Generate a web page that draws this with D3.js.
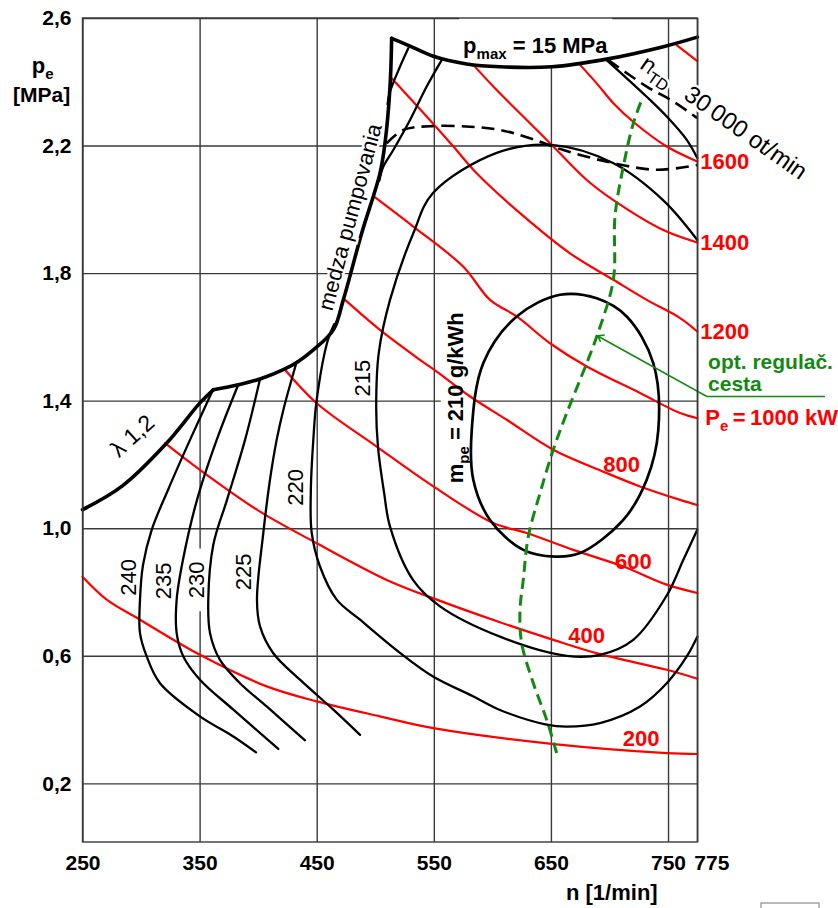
<!DOCTYPE html>
<html>
<head>
<meta charset="utf-8">
<script src="https://cdn.jsdelivr.net/npm/d3@7"></script>
<style>
  body { margin: 0; background: #fff; }
  svg { display: block; }
  text { font-family: "Liberation Sans", Arial, sans-serif; }
</style>
</head>
<body>
<div id="chart"></div>
<script>
// axis values
const xTicks = [250, 350, 450, 550, 650, 750, 775];
const yTicks = [0.2, 0.6, 1.0, 1.4, 1.8, 2.2, 2.6];

// operating limits [n, pe]
const lambdaLine = [[250, 1.058], [283.5, 1.131], [321.9, 1.267], [350.3, 1.393], [361.7, 1.434]];
const surgeLine = [[361.7, 1.434], [383, 1.450], [401.6, 1.468], [421.5, 1.497], [434.3, 1.523], [447.1, 1.559],
  [464.2, 1.622], [472.7, 1.716], [488.4, 1.925], [504, 2.113], [508.3, 2.207], [512.6, 2.385], [514, 2.536]];
const pmaxLine = [[514, 2.536], [529.7, 2.512], [549.6, 2.480], [578, 2.456], [606.5, 2.447], [650.7, 2.447],
  [697.6, 2.471], [746, 2.51], [775, 2.540]];

// short branches between p_max and the surge limit
const topBranchA = [[528.2, 2.505], [521.1, 2.447], [512.6, 2.369], [510.5, 2.33]];
const topBranchB = [[556.7, 2.468], [543.9, 2.385], [529.7, 2.280], [515.4, 2.186], [506.9, 2.134], [503.5, 2.09]];

// specific consumption contours m_pe [g/kWh]
const bsfc210 = [[657.8, 1.732], [689.1, 1.721], [714.7, 1.664], [737.4, 1.518], [741.7, 1.308], [731.8, 1.152],
  [711.8, 1.026], [674.9, 0.922], [653.5, 0.911], [626.4, 0.932], [598, 1.026], [583.7, 1.152], [582.4, 1.308],
  [592.3, 1.518], [620.8, 1.664]];
const bsfc215 = [[775, 1.904], [745.7, 2.029], [703, 2.145], [650.7, 2.202], [603.7, 2.177], [549.3, 2.051],
  [532.5, 1.925], [512.6, 1.716], [503, 1.55], [500.8, 1.38], [502.3, 1.256], [507.6, 1.110], [512.6, 1.005],
  [532.2, 0.838], [555.3, 0.755], [606.5, 0.660], [663.5, 0.600], [691.9, 0.603], [720.3, 0.650], [748.9, 0.789],
  [763.1, 0.901], [775, 0.995]];
const bsfc220 = [[465, 1.640], [459.6, 1.591], [450, 1.403], [447.1, 1.277], [445, 1.120], [445.7, 0.986],
  [452.8, 0.880], [467.1, 0.776], [487, 0.713], [521.1, 0.609], [549.3, 0.535], [583.5, 0.473], [606.5, 0.430],
  [646.4, 0.384], [663.5, 0.378], [691.9, 0.389], [726.1, 0.441], [748.9, 0.514], [766, 0.598], [775, 0.660]];
const bsfc225 = [[432.9, 1.522], [421.5, 1.371], [415.8, 1.277], [410.1, 1.152], [404.4, 0.985], [399, 0.776],
  [401.6, 0.692], [412.9, 0.608], [435.7, 0.525], [464.2, 0.431], [487, 0.352]];
const bsfc230 = [[401.6, 1.468], [388.8, 1.277], [373.4, 1.089], [361.7, 0.948], [357.4, 0.776], [358.9, 0.671],
  [367.4, 0.587], [384.5, 0.514], [407.3, 0.441], [440, 0.335]];
const bsfc235 = [[383, 1.450], [364.6, 1.277], [347.8, 1.089], [335.8, 0.901], [330.4, 0.776], [330.4, 0.671],
  [336.1, 0.598], [350.3, 0.525], [378.8, 0.431], [417.2, 0.308]];
const bsfc240 = [[361.4, 1.434], [341.8, 1.277], [323, 1.120], [309.1, 0.995], [301.7, 0.885], [299.1, 0.776],
  [299.1, 0.671], [304.8, 0.598], [316.2, 0.514], [350.3, 0.410], [378.8, 0.347], [398.2, 0.297]];

// turbocharger speed limit and upper dashed limit
const ntdSolid = [[697.6, 2.468], [731.8, 2.353], [748.9, 2.291], [766, 2.218], [775, 2.161]];
const ntdDashed = [[699, 2.468], [731.8, 2.385], [754.5, 2.338], [775, 2.286]];
const limitDashed = [[509.8, 2.207], [524, 2.249], [548.2, 2.261], [580.9, 2.259], [606.5, 2.249], [632.1, 2.223],
  [660.6, 2.186], [703.3, 2.145], [740.3, 2.124], [775, 2.139]];

// constant power lines Pe [kW]
const power200 = [[250, 0.848], [270.7, 0.776], [299.1, 0.713], [350.3, 0.603], [407.3, 0.504], [450, 0.457],
  [504, 0.410], [549.6, 0.373], [650.7, 0.324], [748.9, 0.295], [775, 0.292]];
const power400 = [[320.5, 1.267], [350.3, 1.183], [401.6, 1.052], [450, 0.953], [509.8, 0.838], [552.5, 0.776],
  [606.5, 0.705], [652, 0.650], [692, 0.605], [748.9, 0.556], [775, 0.528]];
const power600 = [[422.9, 1.497], [450, 1.392], [501.2, 1.256], [549.6, 1.131], [600.8, 1.016], [629.3, 0.985],
  [669.1, 0.932], [711.8, 0.880], [748.9, 0.823], [775, 0.797]];
const power800 = [[474.2, 1.716], [504, 1.622], [538.2, 1.528], [552.5, 1.491], [581, 1.413], [612.3, 1.340],
  [652, 1.246], [697.6, 1.173], [726.1, 1.131], [760.3, 1.089], [775, 1.073]];
const power1000 = [[499, 2.040], [532.5, 1.946], [575.2, 1.820], [598, 1.716], [620.8, 1.664], [649.2, 1.580],
  [680.6, 1.507], [726.1, 1.424], [760.3, 1.361], [775, 1.345]];
const power1200 = [[514, 2.411], [543.9, 2.291], [566.7, 2.197], [586.6, 2.113], [623.6, 1.988], [666.3, 1.862],
  [703.3, 1.779], [731.8, 1.716], [760.3, 1.659], [775, 1.617]];
const power1400 = [[583.7, 2.453], [603.7, 2.374], [632.1, 2.270], [652, 2.197], [680.6, 2.092], [703.3, 2.029],
  [746, 1.935], [775, 1.896]];
const power1600 = [[674.9, 2.453], [689.1, 2.395], [703.3, 2.333], [721.8, 2.270], [748.9, 2.197], [775, 2.150]];
const power1800 = [[757.4, 2.515], [775, 2.465]];

// optimal control path
const optPath = [[654.9, 0.295], [646.4, 0.399], [635, 0.514], [625, 0.640], [623.6, 0.744], [626.4, 0.838],
  [630.7, 0.974], [640.7, 1.110], [652, 1.246], [663.5, 1.361], [680.6, 1.518], [689.1, 1.601], [703.3, 1.779],
  [704.7, 1.977], [711.8, 2.134], [720.4, 2.270], [727.5, 2.343]];

const W = 838, H = 908;
const yMin = 0.016;

const svg = d3.select("#chart").append("svg")
    .attr("width", W)
    .attr("height", H);

const x = d3.scaleLinear().domain([250, 775]).range([82.5, 697.3]);
const y = d3.scaleLinear().domain([yMin, 2.6]).range([842, 18]);
const plotW = x(775) - x(250), plotH = y(yMin) - y(2.6);

const gGrid = svg.append("g");
const gBg = svg.append("g");
const gCurves = svg.append("g");
const gFrame = svg.append("g");
const gText = svg.append("g");

// grid and tick labels
const comma = d => d3.format(".1f")(d).replace(".", ",");
gGrid.append("g")
    .attr("transform", "translate(0," + y(yMin) + ")")
    .call(d3.axisBottom(x).tickValues(xTicks).tickSize(-plotH).tickPadding(13).tickFormat(d3.format("d")));
gGrid.append("g")
    .attr("transform", "translate(" + x(250) + ",0)")
    .call(d3.axisLeft(y).tickValues(yTicks).tickSize(-plotW).tickPadding(11).tickFormat(comma));
gGrid.selectAll(".domain").remove();
gGrid.selectAll(".tick line").attr("stroke", "#3a3a3a").attr("stroke-width", 1.4);
gGrid.selectAll(".tick text")
    .attr("fill", "#000")
    .style("font-size", "21px")
    .style("font-weight", "bold")
    .style("font-family", '"Liberation Sans", Arial, sans-serif');
gGrid.selectAll(".tick text").filter(d => d === 775).attr("dx", 14);

// frame
gFrame.append("rect")
    .attr("x", x(250)).attr("y", y(2.6))
    .attr("width", plotW).attr("height", plotH)
    .attr("fill", "none").attr("stroke", "#3a3a3a").attr("stroke-width", 1.4);

const line = d3.line().x(d => x(d[0])).y(d => y(d[1])).curve(d3.curveCatmullRom.alpha(0.5));
const loop = d3.line().x(d => x(d[0])).y(d => y(d[1])).curve(d3.curveCatmullRomClosed.alpha(0.5));

function draw(pts, color, width, dash, gen) {
    gCurves.append("path")
        .attr("d", (gen || line)(pts))
        .attr("fill", "none")
        .attr("stroke", color)
        .attr("stroke-width", width)
        .attr("stroke-linecap", dash ? "butt" : "round")
        .attr("stroke-linejoin", "round")
        .attr("stroke-dasharray", dash || null);
}

// red power lines
[power200, power400, power600, power800, power1000, power1200, power1400, power1600, power1800]
    .forEach(p => draw(p, "#ff0000", 2.2));

// consumption contours
[bsfc215, bsfc220, bsfc225, bsfc230, bsfc235, bsfc240, topBranchA, topBranchB, ntdSolid]
    .forEach(p => draw(p, "#000", 2.3));
draw(bsfc210, "#000", 2.7, null, loop);

// dashed limits
draw(limitDashed, "#000", 2.6, "13,7");
draw(ntdDashed, "#000", 2.6, "13,7");

// boundary
[lambdaLine, surgeLine, pmaxLine].forEach(p => draw(p, "#000", 3.6));

// optimal path
draw(optPath, "#128a12", 3, "11,6");

// leader to the green label
gCurves.append("path")
    .attr("d", d3.line().x(d => x(d[0])).y(d => y(d[1]))([[689.9, 1.603], [783.1, 1.413], [884, 1.413]]))
    .attr("fill", "none").attr("stroke", "#128a12").attr("stroke-width", 1.6);
gCurves.append("path")
    .attr("d", "M" + (x(689.9) + 7) + "," + (y(1.603) - 1) + "L" + x(689.9) + "," + y(1.603) + "L" + (x(689.9) + 3) + "," + (y(1.603) + 6))
    .attr("fill", "none").attr("stroke", "#128a12").attr("stroke-width", 1.6);

// text helper: parts are [string, isSub]
function label(px, py, rot, parts, o) {
    o = o || {};
    const size = o.size || 21;
    const tf = "translate(" + px + "," + py + ") rotate(" + rot + ")";
    const g = gText.append("g").attr("transform", tf);
    const t = g.append("text")
        .attr("text-anchor", o.anchor || "start")
        .attr("dy", o.dy || 0)
        .attr("fill", o.color || "#000")
        .style("font-size", size + "px")
        .style("font-weight", o.bold ? "bold" : "normal");
    let sub = false;
    parts.forEach(p => {
        const ts = t.append("tspan").text(p[0]);
        if (p[1]) {
            ts.style("font-size", Math.round(size * 0.68) + "px").attr("dy", sub ? null : 6);
            sub = true;
        } else if (sub) {
            ts.attr("dy", -6);
            sub = false;
        }
    });
    if (o.halo) {
        t.attr("stroke", "#fff").attr("stroke-width", o.halo).style("paint-order", "stroke");
    }
    if (o.bg) {
        const b = t.node().getBBox();
        const pad = o.bg;
        gBg.append("rect")
            .attr("transform", tf)
            .attr("x", b.x - pad[0]).attr("y", b.y - pad[1])
            .attr("width", b.width + 2 * pad[0]).attr("height", b.height + pad[1] + pad[2])
            .attr("fill", "#fff");
    }
    return t;
}

// contour labels
label(x(488.7), y(1.471), -90, [["215"]], {anchor: "middle", dy: "0.35em", size: 22});
label(x(431.5), y(1.128), -90, [["220"]], {anchor: "middle", dy: "0.35em", size: 22});
label(x(387.1), y(0.863), -90, [["225"]], {anchor: "middle", dy: "0.35em", size: 22});
label(x(346.9), y(0.838), -90, [["230"]], {anchor: "middle", dy: "0.35em", size: 22, bg: [13, 0, 0]});
label(x(318.7), y(0.835), -90, [["235"]], {anchor: "middle", dy: "0.35em", size: 22});
label(x(288.9), y(0.846), -90, [["240"]], {anchor: "middle", dy: "0.35em", size: 22});
label(x(568.1), y(1.409), -90, [["m"], ["pe", true], [" = 210 g/kWh"]],
    {anchor: "middle", dy: "0.35em", bold: true, size: 22, bg: [2, 2, 2]});

// limit labels
label(x(575), y(2.490), 0, [["p"], ["max", true], [" = 15 MPa"]], {bold: true, size: 22, bg: [4, 16, 3]});
label(x(484.4), y(1.970), -75, [["medza pumpovania"]], {anchor: "middle", size: 22, halo: 5});
label(x(297), y(1.272), -42, [["λ  1,2"]], {anchor: "middle", size: 23});
label(x(725), y(2.445), 35, [["n"], ["TD", true], ["\u2002 30\u2009000 ot/min"]], {size: 24, halo: 5});

// power labels
const red = "#ff0000";
label(x(775) + 3, y(2.150), 0, [["1600"]], {bold: true, size: 22, color: red, dy: "0.35em"});
label(x(775) + 3, y(1.896), 0, [["1400"]], {bold: true, size: 22, color: red, dy: "0.35em"});
label(x(775) + 3, y(1.617), 0, [["1200"]], {bold: true, size: 22, color: red, dy: "0.35em"});
label(x(775) + 8, y(1.345), 0, [["P"], ["e", true], ["\u2009=\u20091000 kW"]], {bold: true, size: 22, color: red, dy: "0.3em"});
label(x(710.3), y(1.199), 0, [["800"]], {anchor: "middle", bold: true, size: 22, color: red, dy: "0.35em"});
label(x(720.5), y(0.896), 0, [["600"]], {anchor: "middle", bold: true, size: 22, color: red, dy: "0.35em"});
label(x(680.4), y(0.664), 0, [["400"]], {anchor: "middle", bold: true, size: 22, color: red, dy: "0.35em"});
label(x(727), y(0.341), 0, [["200"]], {anchor: "middle", bold: true, size: 22, color: red, dy: "0.35em"});

// green label
label(x(784.2), y(1.500), 0, [["opt. regulač."]], {bold: true, size: 21, color: "#128a12"});
label(x(784.2), y(1.429), 0, [["cesta"]], {bold: true, size: 21, color: "#128a12"});

// axis titles
label(31.7, 73, 0, [["p"], ["e", true]], {bold: true, size: 22});
label(13, 102, 0, [["[MPa]"]], {bold: true, size: 21});
label(x(702), 900, 0, [["n [1/min]"]], {anchor: "middle", bold: true, size: 22});

// small stamp at bottom right
svg.append("rect")
    .attr("x", 761).attr("y", 903).attr("width", 58).attr("height", 8)
    .attr("fill", "none").attr("stroke", "#777").attr("stroke-width", 1);
</script>
</body>
</html>
